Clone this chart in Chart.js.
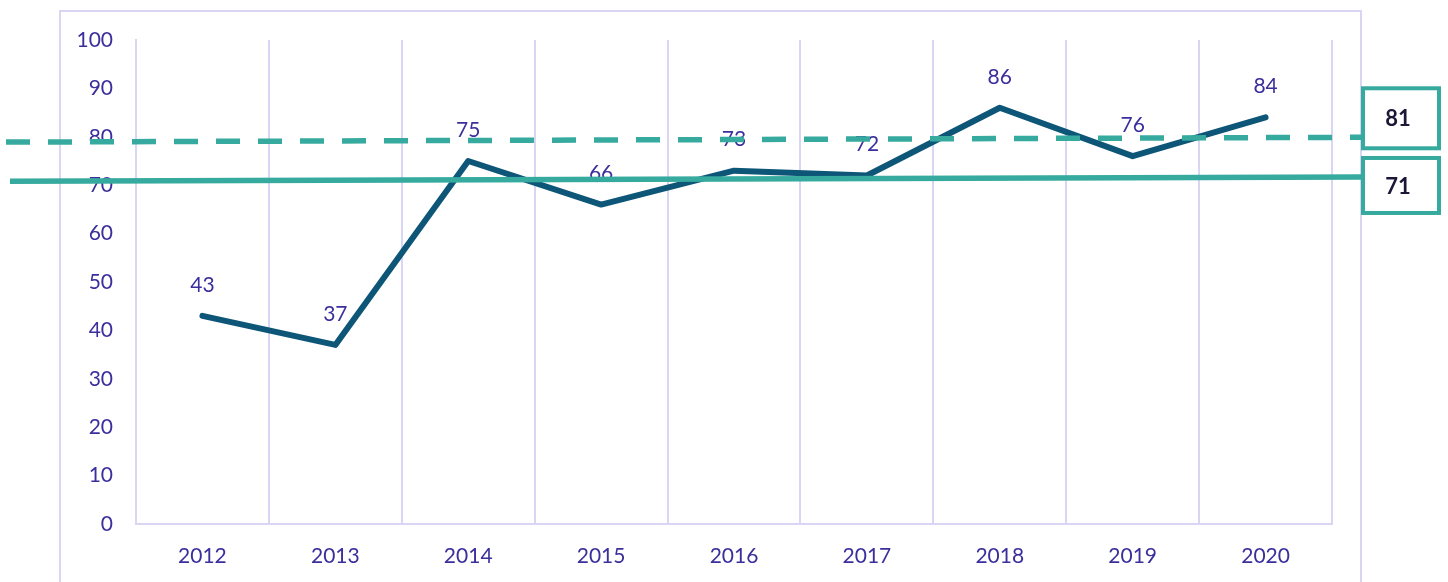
<!DOCTYPE html>
<html>
<head>
<meta charset="utf-8">
<script src="https://cdn.jsdelivr.net/npm/chart.js@4/dist/chart.umd.min.js"></script>
<style>
html,body{margin:0;padding:0;background:#fff;}
canvas{display:block;}
</style>
</head>
<body>
<canvas id="c" width="1448" height="582"></canvas>
<script>
// ---- data ----
const categories = ['2012','2013','2014','2015','2016','2017','2018','2019','2020'];
const scores = [43, 37, 75, 66, 73, 72, 86, 76, 84];
const yTickStep = 10;
const yMin = 0, yMax = 100;
// reference lines: value at left end, value at right end
const dashedRef = [78.9, 79.9];
const solidRef = [70.8, 71.7];
const refLabels = ['81', '71'];

const TEXT = '#3a2f9c';
const GRID = '#d9d5f4';
const TEAL = '#36aa9e';
const NAVY = '#0d5678';
const FONT = 'Lato, "Open Sans", sans-serif';

const decor = {
  id: 'decor',
  beforeDraw(chart) {
    const ctx = chart.ctx;
    ctx.save();
    ctx.strokeStyle = GRID;
    ctx.lineWidth = 2;
    ctx.strokeRect(60, 11, 1301, 600);
    ctx.restore();
  },
  afterDatasetsDraw(chart) {
    const ctx = chart.ctx;
    const meta = chart.getDatasetMeta(0);
    ctx.save();
    // data labels
    ctx.fillStyle = TEXT;
    ctx.font = '21px ' + FONT;
    ctx.textAlign = 'center';
    ctx.textBaseline = 'middle';
    meta.data.forEach((pt, i) => {
      ctx.fillText(String(scores[i]), pt.x, pt.y - 31);
    });
    // reference lines
    const y = chart.scales.y;
    const xEnd = 1361;
    ctx.strokeStyle = TEAL;
    ctx.lineWidth = 5.5;
    ctx.setLineDash([24, 18]);
    ctx.beginPath();
    ctx.moveTo(6, y.getPixelForValue(dashedRef[0]));
    ctx.lineTo(xEnd, y.getPixelForValue(dashedRef[1]));
    ctx.stroke();
    ctx.setLineDash([]);
    ctx.beginPath();
    ctx.moveTo(10, y.getPixelForValue(solidRef[0]));
    ctx.lineTo(xEnd, y.getPixelForValue(solidRef[1]));
    ctx.stroke();
    // boxes
    const dEnd = y.getPixelForValue(dashedRef[1]);
    const sEnd = y.getPixelForValue(solidRef[1]);
    const boxes = [
      {top: dEnd - 49, h: 60, label: refLabels[0]},
      {top: sEnd - 19, h: 55, label: refLabels[1]}
    ];
    ctx.lineWidth = 4;
    ctx.font = 'bold 22px ' + FONT;
    boxes.forEach(b => {
      ctx.fillStyle = '#fff';
      ctx.fillRect(1363, b.top, 76, b.h);
      ctx.strokeStyle = TEAL;
      ctx.strokeRect(1363, b.top, 76, b.h);
      ctx.fillStyle = '#1c1637';
      ctx.fillText(b.label, 1398, b.top + b.h / 2 + 1);
    });
    ctx.restore();
  }
};

new Chart(document.getElementById('c'), {
  type: 'line',
  data: {
    labels: categories,
    datasets: [{
      data: scores,
      borderColor: NAVY,
      borderWidth: 6,
      borderCapStyle: 'round',
      borderJoinStyle: 'round',
      pointRadius: 0,
      tension: 0,
      fill: false
    }]
  },
  options: {
    responsive: false,
    animation: false,
    devicePixelRatio: 1,
    layout: {padding: {top: 40, right: 116, left: 0, bottom: 0}},
    plugins: {legend: {display: false}, tooltip: {enabled: false}},
    scales: {
      x: {
        offset: true,
        grid: {offset: true, color: GRID, lineWidth: 2, drawTicks: false},
        border: {color: GRID, width: 2},
        ticks: {color: TEXT, font: {family: FONT, size: 21}, padding: 20, maxRotation: 0},
        afterFit(s) { s.height = 58; }
      },
      y: {
        min: yMin, max: yMax,
        grid: {display: false, drawTicks: false},
        border: {color: GRID, width: 2},
        ticks: {stepSize: yTickStep, color: TEXT, font: {family: FONT, size: 21}, padding: 23},
        afterFit(s) { s.width = 136; }
      }
    }
  },
  plugins: [decor]
});
</script>
</body>
</html>
